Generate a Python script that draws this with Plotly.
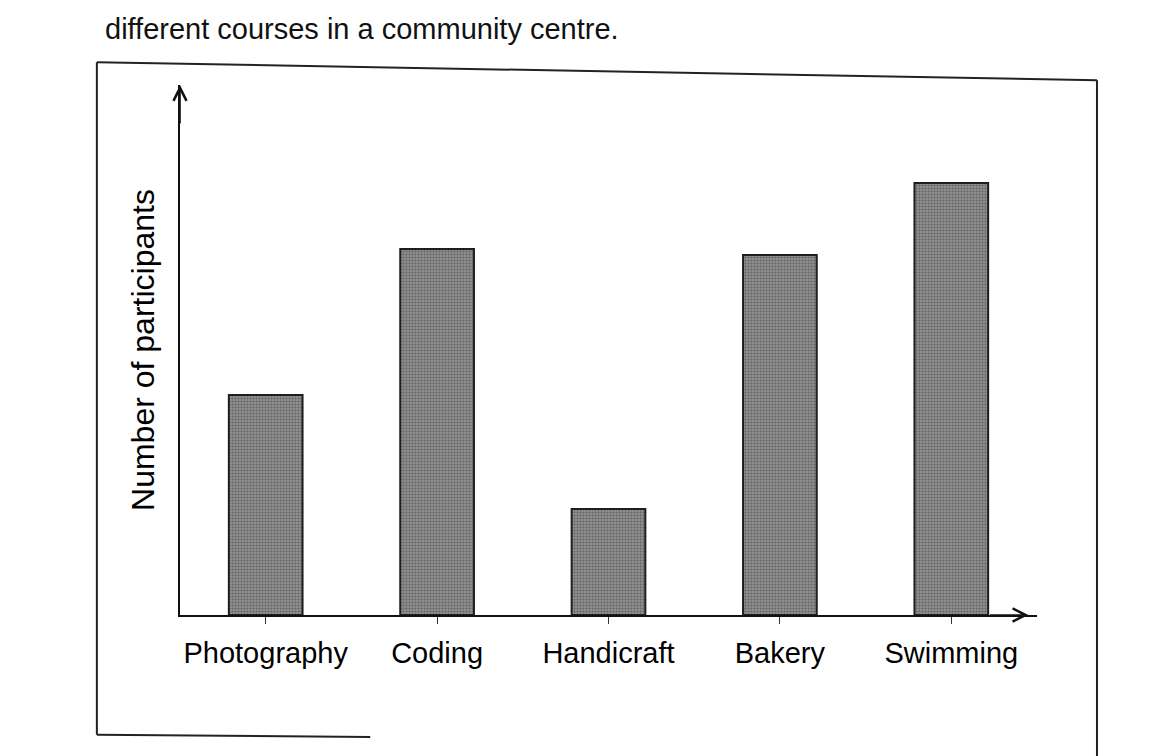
import plotly.graph_objects as go

# course names on the x axis
courses = ["Photography", "Coding", "Handicraft", "Bakery", "Swimming"]
# bar heights (no scale is printed, arbitrary units)
participants = [22.0, 36.6, 10.6, 36.0, 43.2]

Y_MAX = 53
FONT = "Liberation Sans, Arial, sans-serif"

bars = go.Bar(
    x=courses,
    y=participants,
    width=0.43,
    marker=dict(
        color="#888888",
        line=dict(color="#1e1e1e", width=2),
        pattern=dict(shape=".", size=3, solidity=0.5, fgcolor="#383838", bgcolor="#9a9a9a"),
    ),
    hoverinfo="x+y",
)

fig = go.Figure(data=[bars])

# the page body adds ~8px, so margins are trimmed by that amount
fig.update_layout(
    width=1151,
    height=756,
    margin=dict(l=172, r=122, t=77, b=149),
    paper_bgcolor="white",
    plot_bgcolor="white",
    showlegend=False,
    font=dict(family=FONT, color="#000000"),
    xaxis=dict(
        range=[-0.5, 4.5],
        showline=True,
        linecolor="#111111",
        linewidth=2,
        ticks="outside",
        ticklen=7,
        tickcolor="#333333",
        ticklabelstandoff=4,
        tickfont=dict(size=29, color="#000000"),
        showgrid=False,
        zeroline=False,
    ),
    yaxis=dict(
        range=[0, Y_MAX],
        showline=True,
        linecolor="#111111",
        linewidth=2,
        showticklabels=False,
        ticks="",
        showgrid=False,
        zeroline=False,
        title=dict(text="Number of participants", font=dict(size=32, color="#000000"), standoff=14),
    ),
)

# arrow heads on both axes
fig.add_annotation(
    x=0, y=1.0, xref="paper", yref="paper", ax=0, ay=40, axref="pixel", ayref="pixel",
    showarrow=True, arrowhead=5, arrowsize=1.6, arrowwidth=1.6, arrowcolor="#111111", text="",
)
fig.add_annotation(
    x=0.99, y=0, xref="paper", yref="paper", ax=-40, ay=0, axref="pixel", ayref="pixel",
    showarrow=True, arrowhead=5, arrowsize=1.6, arrowwidth=1.6, arrowcolor="#111111", text="",
)

# heading text that is partly cut off at the top of the scan
fig.add_annotation(
    x=-0.09, y=1.072, xref="paper", yref="paper", xanchor="left", yanchor="bottom",
    text="different courses in a community centre.", showarrow=False,
    font=dict(size=29, color="#111111", family=FONT),
)

# frame around the figure (only partly visible in the scan)
frame_line = dict(color="#222222", width=2)
fig.add_shape(type="line", xref="paper", yref="paper", x0=-0.097, y0=1.043, x1=1.07, y1=1.009, line=frame_line)
fig.add_shape(type="line", xref="paper", yref="paper", x0=-0.097, y0=1.043, x1=-0.097, y1=-0.226, line=frame_line)
fig.add_shape(type="line", xref="paper", yref="paper", x0=1.07, y0=1.009, x1=1.07, y1=-0.27, line=frame_line)
fig.add_shape(type="line", xref="paper", yref="paper", x0=-0.097, y0=-0.226, x1=0.222, y1=-0.23, line=frame_line)

fig.write_html("out.html")
